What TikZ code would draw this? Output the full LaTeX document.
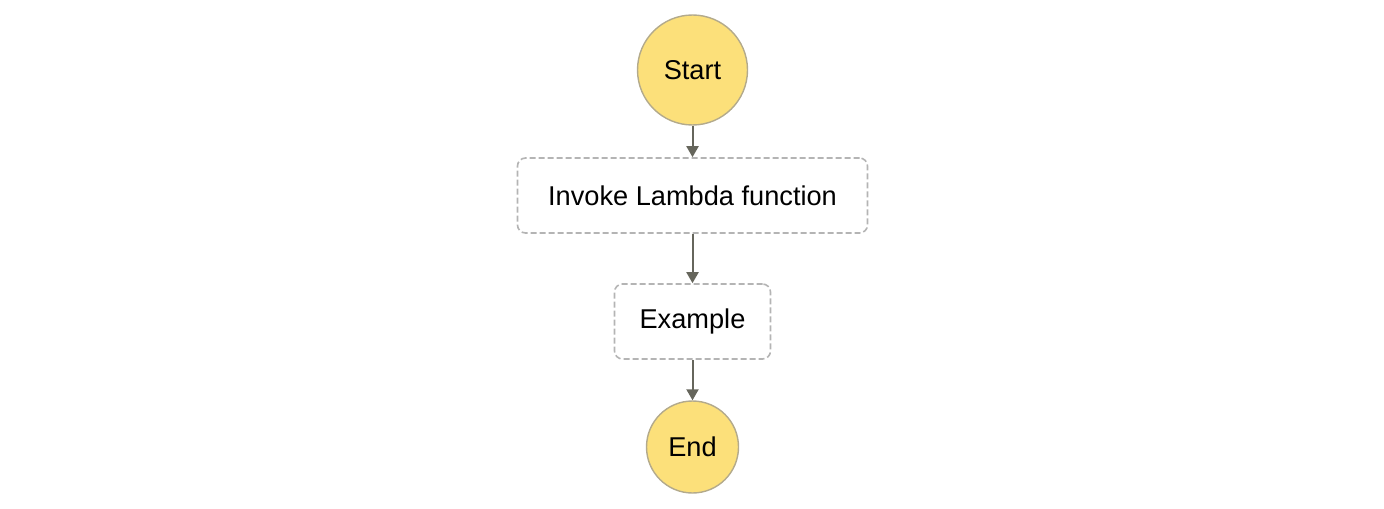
\documentclass[tikz,border=0pt]{standalone}
\usepackage{fontspec}
\setmainfont{Liberation Sans}
\usetikzlibrary{arrows.meta}

\definecolor{stateyellow}{HTML}{FCE07A}
\definecolor{stateedge}{HTML}{B3AA8C}
\definecolor{taskedge}{HTML}{B4B4B4}
\definecolor{flowgray}{HTML}{66665C}

\tikzset{
    terminal/.style={circle, draw=stateedge, line width=0.7pt, fill=stateyellow, inner sep=0pt},
    task/.style={rectangle, rounded corners=4pt, draw=taskedge, line width=0.8pt,
        dash pattern=on 3pt off 1.5pt, fill=white, inner sep=0pt, minimum height=37.5pt},
    flow/.style={draw=flowgray, line width=1pt, -{Triangle[width=6pt,length=5.5pt]}}
}

\begin{document}
\begin{tikzpicture}[x=0.5pt, y=-0.5pt, font=\fontsize{13.6}{16}\selectfont]

    \useasboundingbox (0,0) rectangle (1384,508);

    % start state
    \node[terminal, minimum size=55pt] (start) at (692.5,70) {Start};

    % lambda task
    \node[task, minimum width=175pt] (invoke) at (692.5,195.5) {Invoke Lambda function};

    % pass state
    \node[task, minimum width=78pt] (example) at (692.5,321.5) {Example};

    % end state
    \node[terminal, minimum size=46pt] (end) at (692.5,447) {End};

    % transitions
    \draw[flow] (start) -- (invoke);
    \draw[flow] (invoke) -- (example);
    \draw[flow] (example) -- (end);

\end{tikzpicture}
\end{document}
